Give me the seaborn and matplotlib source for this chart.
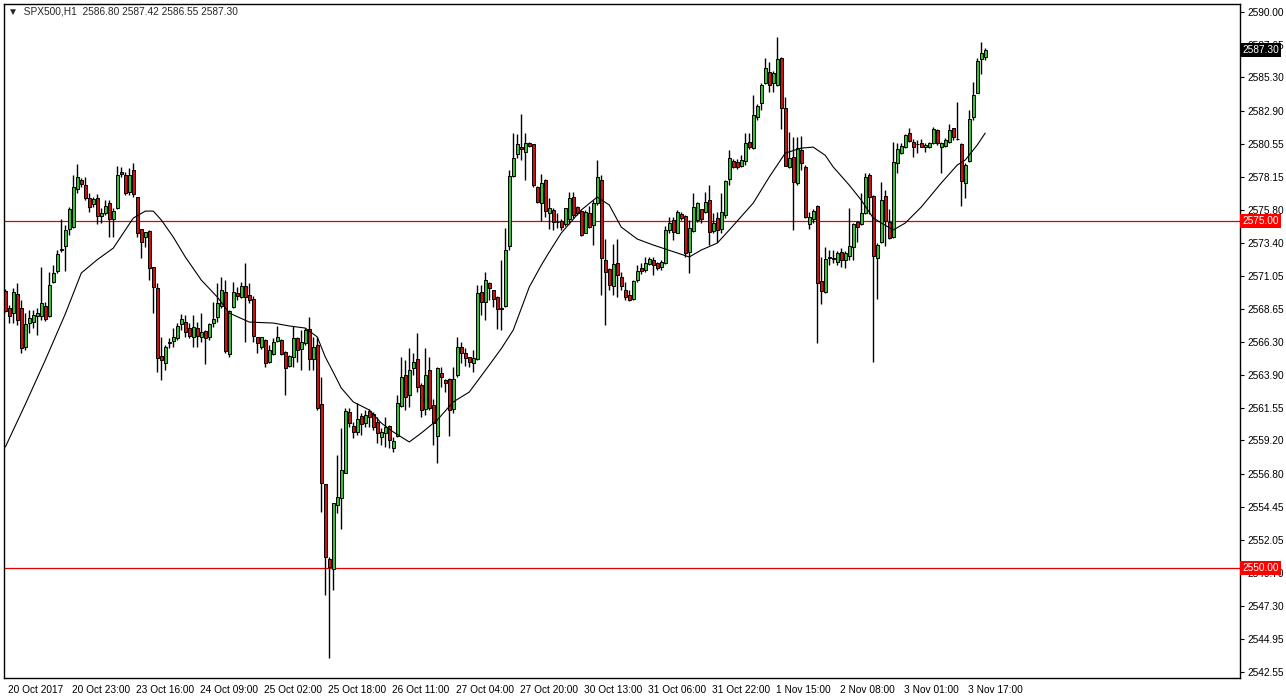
import numpy as np
import pandas as pd
import seaborn as sns
import matplotlib
matplotlib.use("Agg")
import matplotlib.pyplot as plt
import matplotlib.transforms as mtransforms

# SPX500 H1 candles (oldest first)
opens = [
    2569.97, 2568.75, 2568.34, 2569.70, 2568.70, 2565.94, 2567.67, 2567.69, 2568.17, 2568.17,
    2568.89, 2568.17, 2570.57, 2571.41, 2572.90, 2573.20, 2574.42, 2574.57, 2577.25, 2577.92,
    2577.56, 2576.61, 2576.17, 2576.61, 2575.34, 2575.57, 2576.29, 2575.10, 2575.89, 2578.50,
    2578.28, 2577.08, 2578.64, 2576.68, 2574.38, 2573.80, 2574.28, 2571.64, 2570.14, 2565.27,
    2564.74, 2566.20, 2566.37, 2566.54, 2567.55, 2567.74, 2567.31, 2566.66, 2567.26, 2566.61,
    2567.09, 2566.61, 2567.62, 2568.10, 2568.86, 2569.90, 2565.39, 2568.82, 2569.82, 2569.49,
    2570.30, 2569.66, 2569.34, 2566.61, 2565.89, 2566.42, 2564.86, 2565.41, 2566.37, 2566.42,
    2565.58, 2564.55, 2565.22, 2566.54, 2565.74, 2566.18, 2567.18, 2565.03, 2566.06, 2561.81,
    2556.06, 2550.70, 2549.93, 2554.55, 2555.03, 2556.88, 2561.26, 2560.23, 2559.83, 2560.95,
    2560.43, 2561.34, 2561.10, 2560.55, 2559.47, 2559.71, 2560.24, 2558.63, 2559.52, 2561.67,
    2563.90, 2562.46, 2564.38, 2565.03, 2563.18, 2561.43, 2564.26, 2561.75, 2559.52, 2564.02,
    2563.54, 2563.59, 2561.43, 2563.90, 2565.94, 2565.46, 2565.17, 2564.74, 2565.03, 2569.89,
    2569.17, 2570.49, 2570.01, 2569.48, 2568.62, 2568.86, 2573.17, 2578.21, 2579.79, 2580.32,
    2579.96, 2580.60, 2580.51, 2577.44, 2576.24, 2577.92, 2575.52, 2575.76, 2574.88, 2575.00,
    2574.76, 2575.09, 2576.72, 2576.00, 2575.71, 2574.13, 2575.52, 2574.68, 2576.24, 2577.92,
    2572.17, 2571.50, 2570.30, 2571.93, 2570.97, 2570.02, 2569.66, 2569.35, 2570.73, 2571.57,
    2571.45, 2571.88, 2572.17, 2571.93, 2571.69, 2571.93, 2574.33, 2575.05, 2574.14, 2575.48,
    2575.34, 2572.77, 2574.28, 2575.05, 2575.81, 2575.65, 2576.49, 2574.28, 2575.17, 2574.40,
    2575.41, 2577.97, 2579.32, 2579.25, 2578.93, 2579.32, 2580.68, 2580.20, 2582.43, 2583.44,
    2584.92, 2585.71, 2584.92, 2584.76, 2586.67, 2583.08, 2578.84, 2579.60, 2577.69, 2580.08,
    2578.88, 2574.76, 2575.10, 2576.06, 2570.69, 2569.90, 2572.30, 2572.35, 2572.06, 2572.77,
    2572.18, 2572.46, 2573.13, 2574.93, 2574.76, 2575.53, 2578.29, 2576.78, 2572.29, 2573.49,
    2576.78, 2574.93, 2573.85, 2579.12, 2579.89, 2580.27, 2581.33, 2580.66, 2580.50, 2580.61,
    2580.27, 2580.27, 2580.61, 2581.52, 2580.27, 2580.37, 2580.68, 2581.64, 2580.85, 2580.51,
    2577.73, 2579.32, 2582.48, 2584.20, 2586.60, 2586.80]
highs = [
    2570.10, 2568.94, 2570.14, 2570.49, 2569.30, 2568.34, 2568.58, 2568.58, 2568.70, 2571.64,
    2569.18, 2571.33, 2571.81, 2572.89, 2575.12, 2574.69, 2575.96, 2578.28, 2579.07, 2578.04,
    2578.16, 2576.96, 2576.72, 2576.92, 2575.89, 2576.49, 2576.49, 2575.89, 2578.93, 2578.88,
    2578.52, 2578.76, 2579.12, 2576.70, 2574.40, 2574.21, 2574.33, 2571.70, 2570.49, 2566.66,
    2566.06, 2566.54, 2567.26, 2567.62, 2568.29, 2568.22, 2567.62, 2568.22, 2567.74, 2568.34,
    2567.14, 2567.67, 2569.18, 2570.49, 2570.97, 2570.73, 2568.58, 2570.61, 2570.25, 2570.61,
    2571.98, 2570.49, 2569.60, 2566.65, 2566.66, 2566.46, 2566.06, 2566.54, 2567.42, 2566.46,
    2565.62, 2565.34, 2567.42, 2566.66, 2567.13, 2567.25, 2568.04, 2566.66, 2566.66, 2563.73,
    2556.10, 2550.84, 2554.67, 2558.15, 2560.07, 2561.50, 2561.50, 2560.54, 2561.86, 2561.15,
    2561.39, 2561.43, 2561.27, 2560.91, 2560.07, 2560.91, 2560.31, 2559.47, 2562.46, 2565.22,
    2564.98, 2565.82, 2565.51, 2566.95, 2563.35, 2565.82, 2565.22, 2562.15, 2564.45, 2564.50,
    2563.60, 2563.66, 2564.45, 2566.66, 2566.30, 2565.82, 2565.22, 2565.70, 2570.37, 2570.37,
    2571.33, 2570.61, 2570.05, 2569.55, 2572.17, 2574.44, 2578.64, 2581.27, 2581.23, 2582.66,
    2581.27, 2580.67, 2580.55, 2577.50, 2578.35, 2577.97, 2576.60, 2575.88, 2575.52, 2575.09,
    2575.88, 2577.08, 2577.08, 2576.05, 2575.76, 2575.76, 2576.05, 2576.48, 2579.36, 2578.28,
    2573.66, 2571.57, 2573.32, 2573.66, 2571.33, 2570.61, 2570.02, 2570.73, 2571.81, 2571.93,
    2572.36, 2572.41, 2572.36, 2572.05, 2572.17, 2574.62, 2575.29, 2575.29, 2575.77, 2575.65,
    2575.41, 2575.05, 2576.96, 2576.37, 2575.81, 2577.08, 2577.56, 2575.53, 2575.65, 2576.96,
    2577.93, 2580.08, 2579.41, 2579.40, 2579.72, 2581.28, 2581.33, 2584.04, 2583.39, 2584.88,
    2586.67, 2586.43, 2585.79, 2588.18, 2586.79, 2583.92, 2581.40, 2581.04, 2581.04, 2581.09,
    2579.00, 2575.65, 2575.82, 2576.13, 2572.41, 2573.09, 2572.89, 2572.89, 2572.84, 2573.01,
    2572.84, 2575.89, 2574.86, 2575.00, 2576.97, 2578.41, 2578.41, 2576.85, 2573.37, 2577.81,
    2577.21, 2575.82, 2580.68, 2580.61, 2580.61, 2581.23, 2581.64, 2580.90, 2580.80, 2580.85,
    2580.61, 2580.68, 2581.71, 2581.57, 2580.68, 2580.92, 2581.95, 2581.64, 2583.56, 2580.56,
    2579.12, 2582.96, 2585.00, 2586.67, 2587.87, 2587.42]
lows = [
    2568.40, 2567.62, 2567.62, 2567.50, 2565.51, 2565.70, 2566.90, 2567.26, 2566.78, 2567.86,
    2567.81, 2568.10, 2570.49, 2571.21, 2572.77, 2571.41, 2573.97, 2574.45, 2577.01, 2577.44,
    2576.49, 2575.65, 2576.01, 2574.76, 2574.81, 2575.41, 2573.80, 2573.85, 2575.81, 2578.16,
    2576.84, 2576.84, 2576.73, 2573.80, 2572.29, 2573.13, 2570.73, 2568.34, 2564.14, 2563.55,
    2564.26, 2565.82, 2565.94, 2566.42, 2567.14, 2566.66, 2566.54, 2565.94, 2565.94, 2566.30,
    2564.70, 2566.42, 2567.33, 2567.74, 2568.70, 2565.46, 2565.22, 2568.70, 2569.30, 2569.42,
    2566.30, 2569.06, 2566.30, 2565.50, 2565.74, 2564.50, 2564.79, 2565.34, 2566.30, 2565.34,
    2562.46, 2564.45, 2564.50, 2564.86, 2564.26, 2566.06, 2564.26, 2564.26, 2561.38, 2554.07,
    2548.08, 2543.53, 2548.44, 2554.00, 2552.80, 2556.83, 2560.18, 2559.35, 2559.59, 2559.59,
    2560.19, 2560.19, 2559.95, 2558.99, 2558.87, 2558.75, 2558.63, 2558.39, 2559.47, 2561.62,
    2561.39, 2561.63, 2563.90, 2562.70, 2560.91, 2561.03, 2561.39, 2558.87, 2557.60, 2563.06,
    2562.70, 2559.52, 2561.15, 2563.78, 2564.74, 2564.55, 2564.50, 2564.14, 2564.98, 2568.22,
    2567.85, 2569.29, 2568.81, 2567.18, 2567.14, 2568.81, 2572.89, 2578.16, 2579.48, 2579.36,
    2577.92, 2580.32, 2577.39, 2576.30, 2575.00, 2575.28, 2574.37, 2574.32, 2574.44, 2574.32,
    2574.61, 2574.76, 2575.16, 2575.40, 2573.89, 2574.08, 2574.44, 2573.25, 2576.12, 2569.66,
    2567.50, 2570.02, 2569.66, 2569.54, 2570.02, 2569.30, 2569.25, 2569.30, 2570.61, 2571.20,
    2571.33, 2571.81, 2571.09, 2571.45, 2571.45, 2571.88, 2574.14, 2573.61, 2574.09, 2575.05,
    2572.41, 2571.26, 2574.21, 2574.93, 2574.81, 2575.58, 2573.25, 2574.14, 2573.49, 2574.10,
    2575.17, 2577.57, 2578.77, 2578.70, 2578.88, 2579.00, 2580.13, 2580.13, 2582.24, 2582.96,
    2584.83, 2584.28, 2584.28, 2584.68, 2581.57, 2578.90, 2578.77, 2574.33, 2577.57, 2578.65,
    2575.17, 2574.38, 2574.86, 2566.23, 2569.01, 2569.78, 2571.82, 2571.94, 2571.82, 2571.70,
    2571.58, 2572.18, 2572.18, 2573.49, 2574.69, 2575.48, 2575.48, 2564.87, 2569.35, 2573.37,
    2573.18, 2573.66, 2573.73, 2578.45, 2579.80, 2580.20, 2580.68, 2579.60, 2579.84, 2580.27,
    2579.96, 2580.20, 2580.51, 2580.44, 2578.45, 2580.27, 2580.61, 2580.80, 2580.80, 2576.06,
    2576.61, 2579.25, 2582.24, 2584.16, 2585.55, 2586.55]
closes = [
    2568.53, 2568.17, 2569.85, 2567.86, 2565.82, 2567.57, 2567.98, 2568.22, 2568.39, 2569.06,
    2567.93, 2570.37, 2571.21, 2572.60, 2573.00, 2574.33, 2575.81, 2577.40, 2578.11, 2577.61,
    2576.65, 2576.01, 2576.53, 2575.34, 2575.57, 2576.05, 2575.12, 2575.69, 2578.28, 2578.35,
    2577.01, 2578.28, 2576.89, 2574.14, 2573.49, 2574.16, 2571.57, 2570.25, 2565.10, 2564.98,
    2565.89, 2566.30, 2566.61, 2567.43, 2567.93, 2567.02, 2566.73, 2567.38, 2566.71, 2567.02,
    2566.54, 2567.57, 2567.91, 2569.06, 2570.02, 2565.65, 2568.51, 2569.90, 2569.61, 2570.30,
    2569.54, 2569.30, 2566.70, 2566.18, 2566.61, 2564.74, 2565.70, 2566.27, 2566.61, 2565.41,
    2564.38, 2565.27, 2566.54, 2565.70, 2566.25, 2567.13, 2565.03, 2565.89, 2561.50, 2556.11,
    2550.84, 2550.12, 2554.67, 2555.15, 2557.07, 2561.34, 2560.47, 2559.83, 2560.71, 2560.38,
    2561.03, 2560.86, 2560.19, 2559.71, 2559.83, 2560.19, 2559.23, 2559.16, 2561.87, 2563.73,
    2562.34, 2564.26, 2564.86, 2563.02, 2561.39, 2563.90, 2561.51, 2560.48, 2564.38, 2563.73,
    2563.35, 2561.39, 2563.59, 2565.89, 2565.46, 2565.10, 2564.86, 2565.10, 2569.82, 2569.17,
    2570.73, 2570.13, 2569.34, 2568.62, 2568.72, 2572.89, 2578.21, 2579.48, 2580.51, 2580.12,
    2580.60, 2580.36, 2577.56, 2576.36, 2577.73, 2575.71, 2575.88, 2574.92, 2574.92, 2574.56,
    2575.88, 2576.60, 2575.40, 2575.52, 2573.96, 2575.64, 2574.56, 2576.24, 2578.16, 2572.29,
    2571.33, 2570.37, 2571.88, 2571.09, 2570.30, 2569.49, 2569.30, 2570.66, 2571.41, 2571.38,
    2571.93, 2572.22, 2571.81, 2571.57, 2572.05, 2574.33, 2574.86, 2574.21, 2575.65, 2575.17,
    2572.70, 2574.45, 2576.01, 2576.25, 2575.10, 2576.37, 2574.21, 2574.86, 2574.33, 2575.65,
    2577.88, 2579.48, 2578.84, 2578.84, 2579.36, 2580.56, 2580.32, 2582.60, 2583.25, 2584.76,
    2585.95, 2584.76, 2585.59, 2586.60, 2583.08, 2578.93, 2579.48, 2577.81, 2580.20, 2579.17,
    2575.29, 2575.24, 2575.72, 2570.50, 2569.97, 2572.22, 2572.40, 2572.22, 2572.70, 2572.18,
    2572.65, 2573.18, 2574.76, 2574.52, 2575.58, 2578.17, 2576.73, 2572.46, 2573.25, 2576.49,
    2575.00, 2573.73, 2579.24, 2580.13, 2580.37, 2581.16, 2580.75, 2580.27, 2580.55, 2580.32,
    2580.44, 2580.61, 2581.62, 2580.56, 2580.61, 2580.80, 2581.52, 2580.99, 2580.90, 2577.88,
    2579.00, 2582.29, 2584.04, 2586.51, 2587.03, 2587.30]

# moving average line, read at these bar numbers
ma_bar = [0, 5, 10, 15, 19, 23, 27, 31, 32, 35, 37, 39, 42, 45, 49, 53, 56, 61, 67, 71, 75,
          78, 80, 82, 84, 87, 91, 94, 97, 101, 104, 108, 112, 116, 121, 124, 127, 131, 134,
          136, 139, 144, 148, 151, 154, 158, 162, 168, 171, 174, 178, 181, 184, 187, 191,
          195, 199, 202, 205, 207, 211, 214, 217, 222, 225, 229, 234, 238, 240, 243, 245]
ma_val = [2558.73, 2561.80, 2564.98, 2568.30, 2571.24, 2572.20, 2573.03, 2574.76, 2575.19,
          2575.69, 2575.69, 2575.05, 2573.82, 2572.39, 2570.73, 2569.51, 2568.36, 2567.71,
          2567.64, 2567.43, 2567.28, 2566.64, 2565.20, 2564.10, 2562.97, 2561.97, 2561.39,
          2560.45, 2559.81, 2559.09, 2559.73, 2560.67, 2561.97, 2562.68, 2564.62, 2565.80,
          2567.14, 2570.23, 2571.80, 2572.75, 2574.11, 2575.77, 2576.70, 2576.13, 2574.54,
          2573.68, 2573.25, 2572.68, 2572.39, 2572.89, 2573.39, 2574.33, 2575.30, 2576.27,
          2578.14, 2579.86, 2580.22, 2580.29, 2579.70, 2578.86, 2577.56, 2576.48, 2575.19,
          2574.33, 2574.83, 2575.98, 2577.71, 2579.00, 2579.36, 2580.44, 2581.30]

time_labels = ["20 Oct 2017", "20 Oct 23:00", "23 Oct 16:00", "24 Oct 09:00", "25 Oct 02:00",
               "25 Oct 18:00", "26 Oct 11:00", "27 Oct 04:00", "27 Oct 20:00", "30 Oct 13:00",
               "31 Oct 06:00", "31 Oct 22:00", "1 Nov 15:00", "2 Nov 08:00", "3 Nov 01:00",
               "3 Nov 17:00"]
price_ticks = [2590.00, 2587.65, 2585.30, 2582.90, 2580.55, 2578.15, 2575.80, 2573.40,
               2571.05, 2568.65, 2566.30, 2563.90, 2561.55, 2559.20, 2556.80, 2554.45,
               2552.05, 2549.70, 2547.30, 2544.95, 2542.55]
levels = [2575.00, 2550.00]
header = "SPX500,H1  2586.80 2587.42 2586.55 2587.30"

df = pd.DataFrame({"open": opens, "high": highs, "low": lows, "close": closes})
df["bar"] = np.arange(len(df))
df["up"] = df["close"] >= df["open"]
df["body_lo"] = df[["open", "close"]].min(axis=1)
df["body_h"] = (df["close"] - df["open"]).abs().clip(lower=0.04)

sns.set_style("white")
plt.rcParams['font.family'] = ['Liberation Sans', 'DejaVu Sans']

W, H = 1286, 698
fig = plt.figure(figsize=(W / 100, H / 100), dpi=100)
ax = fig.add_axes([4 / W, 20 / H, 1236 / W, 674 / H])

# wicks then bodies
ax.vlines(df["bar"], df["low"], df["high"], color="black", linewidth=1, zorder=2)
ax.bar(df["bar"], df["body_h"], bottom=df["body_lo"], width=0.72,
       color=np.where(df["up"], "#2fc52f", "#d01010"), edgecolor="black",
       linewidth=0.7, zorder=3)

sns.lineplot(x=ma_bar, y=ma_val, color="black", linewidth=0.8, ax=ax, zorder=4)

for lv in levels:
    ax.axhline(lv, color="#e00000", linewidth=0.9, zorder=1)

ax.set_xlim(-0.33, 308.7)
ax.set_ylim(2542.12, 2590.58)

for s in ax.spines.values():
    s.set_color("black")
    s.set_linewidth(1)

ax.yaxis.tick_right()
ax.set_yticks(price_ticks)
ax.set_yticklabels([f"{v:.2f}" for v in price_ticks], fontsize=7.3)
ax.tick_params(axis="y", direction="out", length=3, width=0.8, pad=2, colors="black")

ax.set_xticks(np.arange(0, 16 * len(time_labels), 16))
ax.set_xticklabels(time_labels, fontsize=7.3, ha="left")
ax.tick_params(axis="x", direction="out", length=4, width=0.8, pad=1, colors="black")
shift = mtransforms.ScaledTranslation(3 / 100, 0, fig.dpi_scale_trans)
for lab in ax.get_xticklabels():
    lab.set_transform(lab.get_transform() + shift)
ax.set_xlabel("")
ax.set_ylabel("")

# price tags on the right axis, drawn over the tick labels
tag_tr = mtransforms.blended_transform_factory(ax.transAxes, ax.transData)
for lv in levels:
    ax.text(1.0 + 2 / 1236, lv, f"{lv:.2f}", transform=tag_tr, fontsize=7.3, color="white",
            va="center", ha="left", zorder=6, clip_on=False,
            bbox=dict(boxstyle="square,pad=0.2", facecolor="#ff0000", edgecolor="none"))
ax.text(1.0 + 2 / 1236, closes[-1], f"{closes[-1]:.2f}", transform=tag_tr, fontsize=7.3,
        color="white", va="center", ha="left", zorder=6, clip_on=False,
        bbox=dict(boxstyle="square,pad=0.2", facecolor="black", edgecolor="none"))

fig.text(8 / W, 1 - 12 / H, "\u25bc  " + header, fontsize=7.3, va="center", ha="left")

fig.savefig("out.png", dpi=100, facecolor="white")
